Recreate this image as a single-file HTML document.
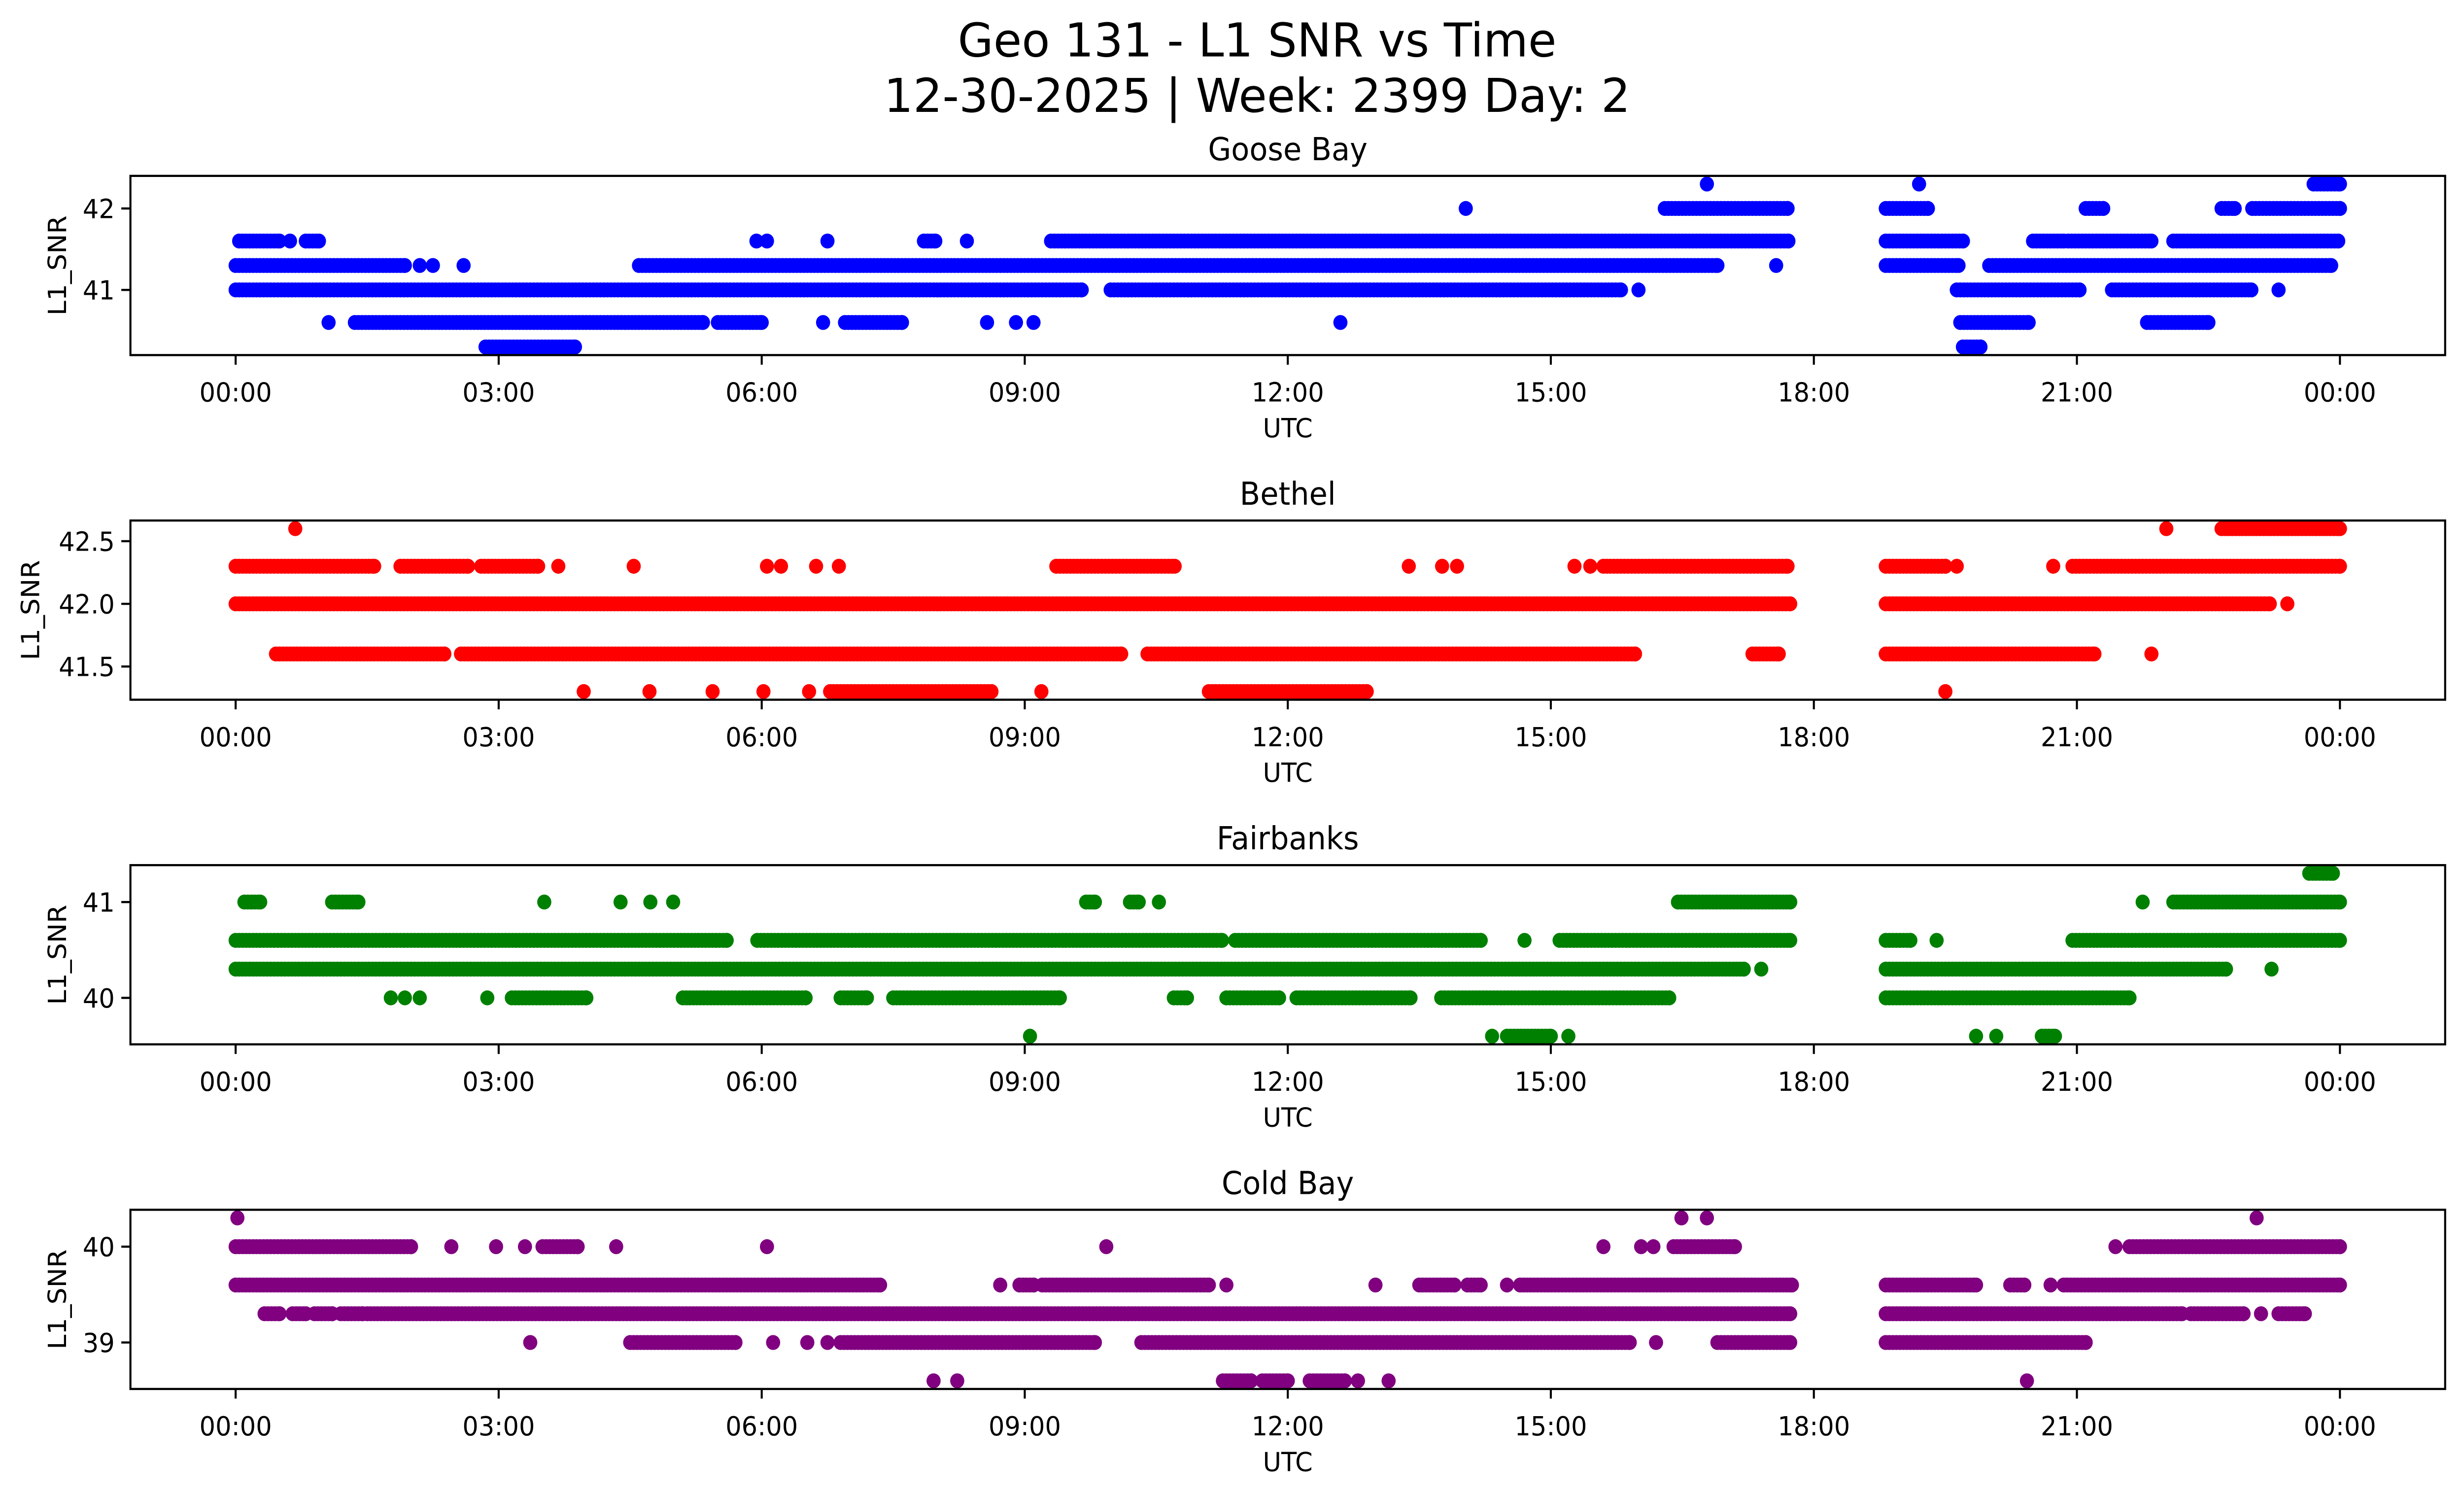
<!DOCTYPE html>
<html><head><meta charset="utf-8"><style>
html,body{margin:0;padding:0;background:#fff;overflow:hidden;width:100%;height:100%;}
svg{display:block;position:fixed;left:0;top:0;width:100vw;height:100vh;}
text{font-family:"DejaVu Sans","Liberation Sans",sans-serif;fill:#000;}
</style></head><body>
<svg id="chart" xmlns="http://www.w3.org/2000/svg" viewBox="0 0 1568 901" preserveAspectRatio="none">
<rect x="0" y="0" width="1568" height="901" fill="#fff"/>
<text x="800" y="34" font-size="28" text-anchor="middle" textLength="381" lengthAdjust="spacingAndGlyphs">Geo 131 - L1 SNR vs Time</text>
<text x="800" y="67.5" font-size="28" text-anchor="middle" textLength="475" lengthAdjust="spacingAndGlyphs">12-30-2025 | Week: 2399 Day: 2</text>
<g id="panels"></g>
</svg>
<script>
const stationNames = ["Goose Bay", "Bethel", "Fairbanks", "Cold Bay"];
const stationColors = ["#0000ff", "#ff0000", "#008000", "#800080"];
const xTickHours = [0, 3, 6, 9, 12, 15, 18, 21, 24];
const xTickLabels = ["00:00","03:00","06:00","09:00","12:00","15:00","18:00","21:00","00:00"];

const gooseLevels = [42.3, 42.0, 41.6, 41.3, 41.0, 40.6, 40.3];
const gooseRuns = [
  [[16.78,16.78],[19.2,19.2],[23.7,24.0]],
  [[14.03,14.03],[16.3,17.7],[18.82,19.3],[21.1,21.3],[22.65,22.8],[23.0,24.0]],
  [[0.04,0.5],[0.62,0.62],[0.8,0.95],[5.94,5.94],[6.06,6.06],[6.75,6.75],[7.85,7.98],[8.34,8.34],[9.3,17.71],[18.82,19.7],[20.5,20.85],[20.9,21.85],[22.1,23.98]],
  [[0,1.93],[2.1,2.1],[2.25,2.25],[2.6,2.6],[4.6,16.9],[17.57,17.57],[18.82,19.65],[20.0,23.9]],
  [[0,9.65],[9.98,15.8],[16.0,16.0],[19.63,21.03],[21.4,22.99],[23.3,23.3]],
  [[1.06,1.06],[1.36,5.33],[5.5,6.0],[6.7,6.7],[6.95,7.6],[8.57,8.57],[8.9,8.9],[9.1,9.1],[12.6,12.6],[19.67,20.45],[21.8,22.5]],
  [[2.85,3.87],[19.7,19.9]]
];
const gooseTicks = [41, 42];
const gooseTickLabels = ["41", "42"];

const bethelLevels = [42.6, 42.3, 42.0, 41.6, 41.3];
const bethelRuns = [
  [[0.68,0.68],[22.02,22.02],[22.65,24.0]],
  [[0,1.58],[1.88,2.65],[2.8,3.45],[3.68,3.68],[4.54,4.54],[6.06,6.06],[6.22,6.22],[6.62,6.62],[6.88,6.88],[9.36,10.71],[13.38,13.38],[13.76,13.76],[13.93,13.93],[15.27,15.27],[15.45,15.45],[15.6,17.7],[18.82,19.5],[19.63,19.63],[20.73,20.73],[20.95,24.0]],
  [[0,17.73],[18.82,23.2],[23.4,23.4]],
  [[0.46,2.38],[2.57,10.1],[10.4,15.96],[17.3,17.6],[18.82,21.2],[21.85,21.85]],
  [[3.97,3.97],[4.72,4.72],[5.44,5.44],[6.02,6.02],[6.54,6.54],[6.78,8.62],[9.19,9.19],[11.1,12.9],[19.5,19.5]]
];
const bethelTicks = [41.5, 42.0, 42.5];
const bethelTickLabels = ["41.5", "42.0", "42.5"];

const fairLevels = [41.3, 41.0, 40.6, 40.3, 40.0, 39.6];
const fairRuns = [
  [[23.65,23.92]],
  [[0.1,0.28],[1.1,1.4],[3.52,3.52],[4.39,4.39],[4.73,4.73],[4.99,4.99],[9.7,9.8],[10.2,10.3],[10.53,10.53],[16.45,17.73],[21.75,21.75],[22.1,24.0]],
  [[0,5.6],[5.95,11.25],[11.4,14.2],[14.7,14.7],[15.1,17.73],[18.82,19.1],[19.4,19.4],[20.95,24.0]],
  [[0,17.2],[17.4,17.4],[18.82,22.7],[23.22,23.22]],
  [[1.77,1.77],[1.93,1.93],[2.1,2.1],[2.87,2.87],[3.15,4.0],[5.1,6.5],[6.9,7.2],[7.5,9.4],[10.7,10.85],[11.3,11.9],[12.1,13.4],[13.75,16.35],[18.82,21.6]],
  [[9.06,9.06],[14.33,14.33],[14.5,15.0],[15.2,15.2],[19.85,19.85],[20.08,20.08],[20.6,20.75]]
];
const fairTicks = [40, 41];
const fairTickLabels = ["40", "41"];

const coldLevels = [40.3, 40.0, 39.6, 39.3, 39.0, 38.6];
const coldRuns = [
  [[0.02,0.02],[16.49,16.49],[16.78,16.78],[23.05,23.05]],
  [[0,2.0],[2.46,2.46],[2.97,2.97],[3.3,3.3],[3.5,3.9],[4.34,4.34],[6.06,6.06],[9.93,9.93],[15.6,15.6],[16.03,16.03],[16.17,16.17],[16.4,17.1],[21.44,21.44],[21.6,24.0]],
  [[0,7.35],[8.72,8.72],[8.94,9.1],[9.2,11.1],[11.3,11.3],[13.0,13.0],[13.5,13.9],[14.05,14.2],[14.5,14.5],[14.65,17.75],[18.82,19.85],[20.24,20.4],[20.7,20.7],[20.85,24.0]],
  [[0.33,0.5],[0.65,0.8],[0.9,1.1],[1.2,1.45],[1.5,17.73],[18.82,22.2],[22.3,22.9],[23.1,23.1],[23.3,23.6]],
  [[3.36,3.36],[4.5,5.7],[6.13,6.13],[6.52,6.52],[6.75,6.75],[6.9,9.8],[10.33,15.9],[16.2,16.2],[16.9,17.73],[18.82,21.1]],
  [[7.96,7.96],[8.23,8.23],[11.26,11.58],[11.71,12.0],[12.25,12.65],[12.8,12.8],[13.15,13.15],[20.43,20.43]]
];
const coldTicks = [39, 40];
const coldTickLabels = ["39", "40"];

const allLevels = [gooseLevels, bethelLevels, fairLevels, coldLevels];
const allRuns = [gooseRuns, bethelRuns, fairRuns, coldRuns];
const allTicks = [gooseTicks, bethelTicks, fairTicks, coldTicks];
const allTickLabels = [gooseTickLabels, bethelTickLabels, fairTickLabels, coldTickLabels];

const NS = "http://www.w3.org/2000/svg";
const L = 83, R = 1556, H = 108;
const tops = [106, 313.7, 521.4, 729.1];
function xScale(h){ return L + (h + 1.2) * (R - L) / 26.4; }
function mk(tag, attrs, parent){
  const e = document.createElementNS(NS, tag);
  for (const k in attrs) e.setAttribute(k, attrs[k]);
  parent.appendChild(e);
  return e;
}
const root = document.getElementById("panels");
for (let p = 0; p < 4; p++){
  const top = tops[p], bot = top + H;
  const lv = allLevels[p];
  const mn = Math.min(...lv), mx = Math.max(...lv), rg = mx - mn;
  const y0 = mn - 0.05*rg, y1 = mx + 0.05*rg;
  const yScale = v => bot - (v - y0) / (y1 - y0) * H;
  const g = mk("g", {}, root);
  
  
  const t = mk("text", {x: (L+R)/2, y: top - 9.5, "font-size": 19, "text-anchor": "middle"}, g);
  t.textContent = stationNames[p];
  
  
  const dots = mk("g", {fill: stationColors[p]}, g);
  
  
  const runs = allRuns[p];
  for (let i = 0; i < lv.length; i++){
    const cy = yScale(lv[i]);
    for (const r of runs[i]){
      for (let h = r[0]; h <= r[1] + 1e-6; h += 0.04){
        const c = mk("circle", {cx: xScale(h).toFixed(2), cy: cy.toFixed(2), r: 4.5}, dots);
        
        
      }
      if (r[1] > r[0]) {
        const c = mk("circle", {cx: xScale(r[1]).toFixed(2), cy: cy.toFixed(2), r: 4.5}, dots);
        
        
      }
    }
  }
  const frame = mk("rect", {x: L, y: top, width: R-L, height: H, fill: "none", stroke: "#000", "stroke-width": 1.3}, g);
  
  
  for (let i = 0; i < xTickHours.length; i++){
    const x = xScale(xTickHours[i]);
    const tk = mk("line", {x1: x, x2: x, y1: bot, y2: bot + 5.8, stroke: "#000", "stroke-width": 1.3}, g);
    
    
    const tl = mk("text", {x: x, y: bot + 28, "font-size": 16, "text-anchor": "middle"}, g);
    tl.textContent = xTickLabels[i];
    
    
  }
  const yt = allTicks[p], ytl = allTickLabels[p];
  for (let i = 0; i < yt.length; i++){
    const y = yScale(yt[i]);
    const tk = mk("line", {x1: L - 5.8, x2: L, y1: y, y2: y, stroke: "#000", "stroke-width": 1.3}, g);
    
    
    const tl = mk("text", {x: L - 10, y: y + 5.8, "font-size": 16, "text-anchor": "end"}, g);
    tl.textContent = ytl[i];
    
    
  }
  const xl = mk("text", {x: (L+R)/2, y: bot + 49.5, "font-size": 16, "text-anchor": "middle"}, g);
  xl.textContent = "UTC";
  
  
  const yx = (p === 1) ? 25 : 42;
  const ylab = mk("text", {x: yx, y: top + H/2, "font-size": 16, "text-anchor": "middle", transform: "rotate(-90 " + yx + " " + (top + H/2) + ")"}, g);
  ylab.textContent = "L1_SNR";
  
  
}
</script>
</body></html>
